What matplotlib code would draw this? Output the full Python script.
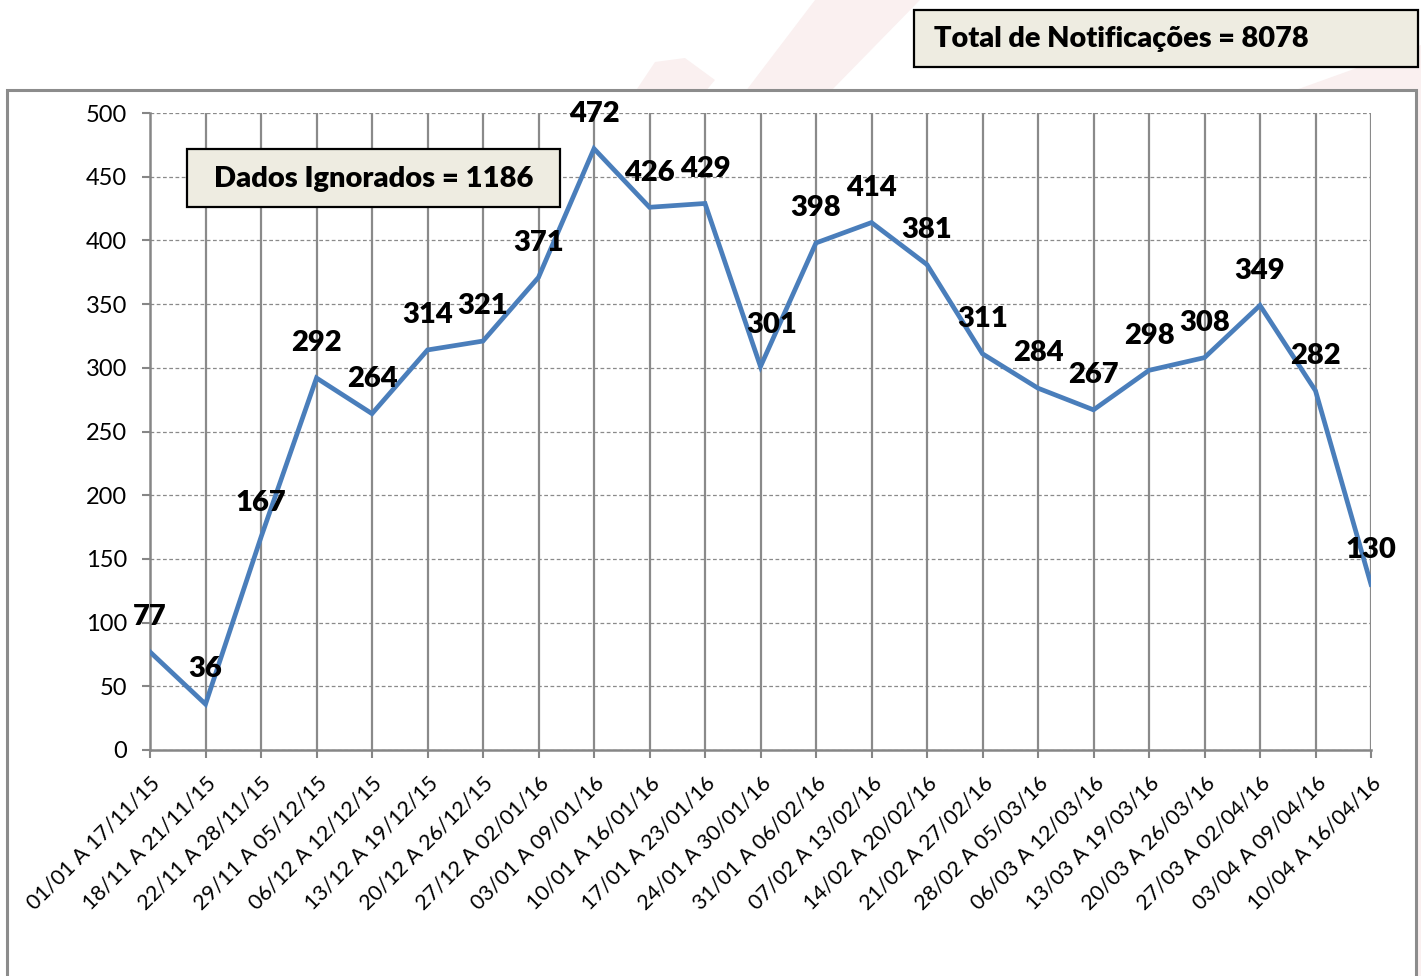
"""Notificações por semana - line chart"""
import matplotlib as mpl
mpl.use('Agg')
import matplotlib.pyplot as plt
from matplotlib.patches import Rectangle, Polygon

weeks = [
    '01/01 A 17/11/15', '18/11 A 21/11/15', '22/11 A 28/11/15', '29/11 A 05/12/15',
    '06/12 A 12/12/15', '13/12 A 19/12/15', '20/12 A 26/12/15', '27/12 A 02/01/16',
    '03/01 A 09/01/16', '10/01 A 16/01/16', '17/01 A 23/01/16', '24/01 A 30/01/16',
    '31/01 A 06/02/16', '07/02 A 13/02/16', '14/02 A 20/02/16', '21/02 A 27/02/16',
    '28/02 A 05/03/16', '06/03 A 12/03/16', '13/03 A 19/03/16', '20/03 A 26/03/16',
    '27/03 A 02/04/16', '03/04 A 09/04/16', '10/04 A 16/04/16',
]
cases = [77, 36, 167, 292, 264, 314, 321, 371, 472, 426, 429, 301,
         398, 414, 381, 311, 284, 267, 298, 308, 349, 282, 130]
yticks = [0, 50, 100, 150, 200, 250, 300, 350, 400, 450, 500]
total_text = 'Total de Notificações = 8078'
ignored_text = 'Dados Ignorados = 1186'

W, H, DPI = 1421, 976, 100
plt.rcParams['font.family'] = ['Lato', 'DejaVu Sans']

fig = plt.figure(figsize=(W / DPI, H / DPI), dpi=DPI)


def px_rect(x0, y0, x1, y1):
    """pixel box (top-left origin) -> figure fraction rect"""
    return (x0 / W, 1 - y1 / H, (x1 - x0) / W, (y1 - y0) / H)


# faint pink background decoration
pink = '#faf0f0'
for pts in [[(635, 92), (655, 62), (685, 58), (715, 80), (705, 92)],
            [(745, 92), (815, 0), (920, 0), (830, 92)],
            [(1290, 92), (1421, 45), (1421, 92)],
            [(1416, 92), (1421, 92), (1421, 976), (1416, 976)]]:
    fig.patches.append(Polygon([(x / W, 1 - y / H) for x, y in pts],
                               closed=True, transform=fig.transFigure,
                               fc=pink, ec='none', zorder=0))

# outer chart frame
x, y, w, h = px_rect(7, 90, 1416, 990)
fig.patches.append(Rectangle((x, y), w, h, transform=fig.transFigure,
                             fc='white', ec='#8c8c8c', lw=2.2, zorder=1))

ax = fig.add_axes(px_rect(150, 113, 1371, 750))
ax.set_zorder(2)
ax.patch.set_alpha(0)

idx = list(range(len(cases)))
ax.plot(idx, cases, color='#4a7ebb', lw=3.4, solid_joinstyle='miter', zorder=3)

for i, v in zip(idx, cases):
    dx, dy = (8, 30) if v == 301 else (0, 25)
    ax.annotate(str(v), (i, v), xytext=(dx, dy), textcoords='offset points',
                ha='center', va='center', fontsize=21, fontweight='heavy',
                color='black', zorder=4)

ax.set_xlim(0, len(cases) - 1)
ax.set_ylim(0, 500)
ax.set_yticks(yticks)
ax.set_xticks(idx)
ax.set_xticklabels(weeks, rotation=45, ha='right', va='top',
                   rotation_mode='anchor', fontsize=15.5)
ax.tick_params(axis='y', labelsize=17, length=5.5, width=1.5,
               color='#868686', pad=11)
ax.tick_params(axis='x', length=5.5, width=1.5, color='#868686', pad=11)

ax.grid(axis='y', color='#8a8a8a', ls=(0, (3, 2)), lw=0.9)
for i in idx[1:]:
    ax.axvline(i, color='#8a8a8a', lw=1.6, zorder=1)
ax.set_axisbelow(True)
for side in ['top', 'right']:
    ax.spines[side].set_visible(False)
for side in ['left', 'bottom']:
    ax.spines[side].set_color('#868686')
    ax.spines[side].set_linewidth(1.8)

# text boxes
x, y, w, h = px_rect(914, 10, 1418, 67)
fig.patches.append(Rectangle((x, y), w, h, transform=fig.transFigure,
                             fc='#eeece1', ec='black', lw=1.6, zorder=5))
fig.text(934 / W, 1 - 39 / H, total_text, ha='left', va='center',
         fontsize=20.8, fontweight='heavy', zorder=6)

x, y, w, h = px_rect(187, 149, 560, 207)
fig.patches.append(Rectangle((x, y), w, h, transform=fig.transFigure,
                             fc='#eeece1', ec='black', lw=1.6, zorder=5))
fig.text(373.5 / W, 1 - 179 / H, ignored_text, ha='center', va='center',
         fontsize=21, fontweight='heavy', zorder=6)

fig.savefig('out.png', dpi=DPI)
